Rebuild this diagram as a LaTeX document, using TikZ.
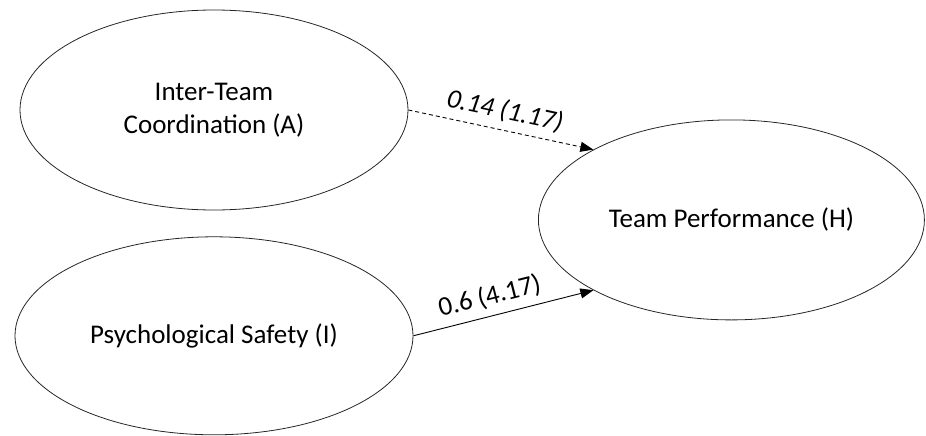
\documentclass[tikz,border=0pt]{standalone}
\usepackage{fontspec}
\setmainfont{Carlito}
\usepackage{tikz}
\usetikzlibrary{shapes.geometric, arrows.meta, positioning, calc}

\begin{document}
\begin{tikzpicture}[
  construct/.style={draw, ellipse, inner sep=0pt, line width=0.8pt, color=black!85,
                    text=black, align=center, font=\fontsize{27}{33}\selectfont},
  path/.style={-{Triangle[length=13pt, width=10pt]}, line width=0.9pt, color=black},
  coef/.style={midway, above=4pt, sloped, font=\fontsize{27}{30}\selectfont},
]
  \useasboundingbox (0pt,0pt) rectangle (926pt,-436pt);

  % Predictors
  \node[construct, minimum width=388pt, minimum height=200pt] (coord) at (214pt,-110pt)
    {Inter-Team\\Coordination (A)};
  \node[construct, minimum width=398pt, minimum height=198pt, below=26pt of coord] (safety)
    {Psychological Safety (I)};

  % Outcome
  \node[construct, minimum width=386pt, minimum height=200pt,
        right=324pt of $(coord)!0.5!(safety)$, yshift=3pt] (perf)
    {Team Performance (H)};

  % Paths
  \draw[path, dash pattern=on 4pt off 3pt] (coord.east) -- (perf.153)
    node[coef] {\itshape 0.14 (1.17)};
  \draw[path] (safety.east) -- (perf.207)
    node[coef, pos=0.45] {0.6 (4.17)};

\end{tikzpicture}
\end{document}
